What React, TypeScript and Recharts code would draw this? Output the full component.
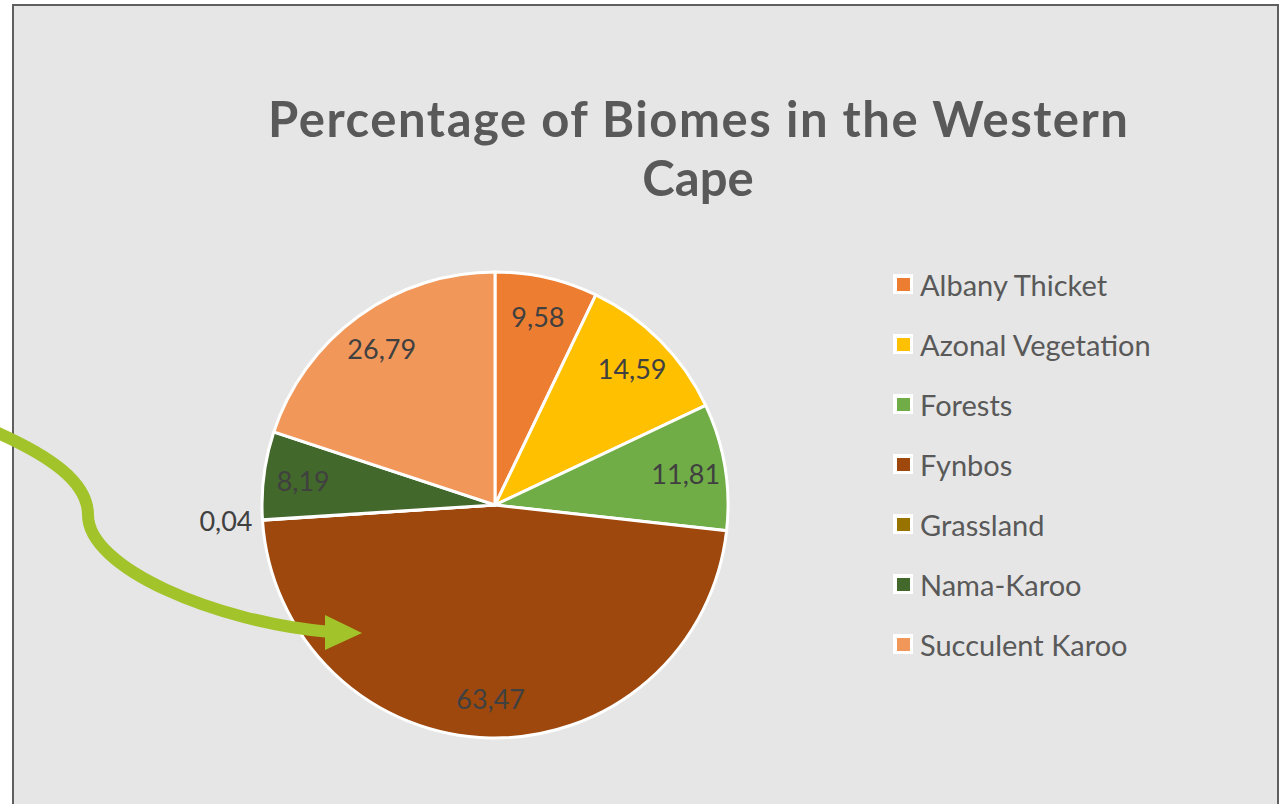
import React from 'react';
import { PieChart, Pie, Cell, Legend } from 'recharts';

const biomes = ['Albany Thicket', 'Azonal Vegetation', 'Forests', 'Fynbos', 'Grassland', 'Nama-Karoo', 'Succulent Karoo'];
const percentages = [9.58, 14.59, 11.81, 63.47, 0.04, 8.19, 26.79];
const colors = ['#ED7D31', '#FFC000', '#70AD47', '#9E480E', '#997300', '#43682B', '#F1975A'];

const data = biomes.map((name, i) => ({ name, value: percentages[i] }));

const FONT = 'Lato, "Open Sans", sans-serif';
const RAD = Math.PI / 180;

const renderLabel = (props: any) => {
  const { cx, cy, midAngle, outerRadius, percent, value } = props;
  const text = String(value).replace('.', ',');
  if (percent < 0.01) {
    const r = outerRadius + 10;
    const x = cx + r * Math.cos(-midAngle * RAD);
    const y = cy + r * Math.sin(-midAngle * RAD);
    return (
      <text x={x} y={y} textAnchor="end" dominantBaseline="central" fill="#404040" fontSize={27} fontFamily={FONT}>
        {text}
      </text>
    );
  }
  const r = outerRadius * 0.83;
  const x = cx + r * Math.cos(-midAngle * RAD);
  const y = cy + r * Math.sin(-midAngle * RAD);
  return (
    <text x={x} y={y} textAnchor="middle" dominantBaseline="central" fill="#404040" fontSize={27} fontFamily={FONT}>
      {text}
    </text>
  );
};

const renderLegend = () => (
  <div style={{ fontFamily: FONT }}>
    {biomes.map((name, i) => (
      <div key={name} style={{ display: 'flex', alignItems: 'center', height: 60 }}>
        <div style={{ width: 20, height: 20, background: '#fff', display: 'flex', alignItems: 'center', justifyContent: 'center', marginRight: 7 }}>
          <div style={{ width: 13, height: 13, background: colors[i] }} />
        </div>
        <span style={{ fontSize: 29, color: '#595959' }}>{name}</span>
      </div>
    ))}
  </div>
);

export default function App() {
  return (
    <div style={{ position: 'fixed', left: 0, top: 0, width: 1280, height: 804, background: '#fff', overflow: 'hidden' }}>
      <div style={{ position: 'absolute', left: 12, top: 4, width: 1263, height: 840, background: '#e6e6e6', border: '2px solid #5f5f5f' }} />
      <div style={{ position: 'absolute', left: 0, top: 0 }}>
        <PieChart width={1280} height={804}>
          <Pie
            data={data}
            dataKey="value"
            nameKey="name"
            cx={490}
            cy={500}
            outerRadius={233}
            startAngle={90}
            endAngle={-270}
            stroke="#ffffff"
            strokeWidth={3}
            label={renderLabel}
            labelLine={false}
            isAnimationActive={false}
          >
            {data.map((entry, i) => (
              <Cell key={entry.name} fill={colors[i]} />
            ))}
          </Pie>
          <Legend
            layout="vertical"
            content={renderLegend}
            wrapperStyle={{ left: 893, top: 254, width: 380 }}
          />
        </PieChart>
      </div>
      <svg width={1280} height={804} style={{ position: 'absolute', left: 0, top: 0, pointerEvents: 'none' }}>
        <text x={698} y={137} textAnchor="middle" fontFamily={FONT} fontWeight="bold" fontSize={49} fill="#595959" textLength={860} lengthAdjust="spacing">
          Percentage of Biomes in the Western
        </text>
        <text x={698} y={196} textAnchor="middle" fontFamily={FONT} fontWeight="bold" fontSize={49} fill="#595959">
          Cape
        </text>
        <path d="M -4 432 C 50 456, 88 482, 88 515 C 88 568, 215 622, 330 632" fill="none" stroke="#A2C42A" strokeWidth={12} />
        <polygon points="325,615 325,650 362,633" fill="#A2C42A" />
      </svg>
    </div>
  );
}
